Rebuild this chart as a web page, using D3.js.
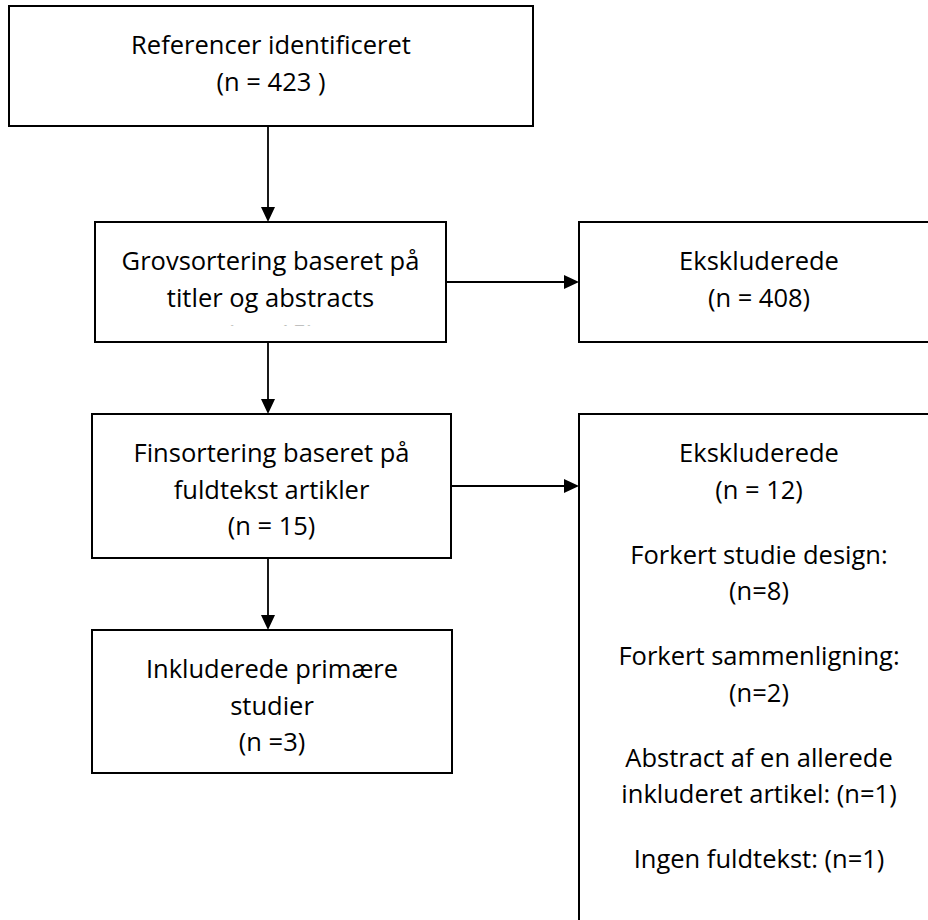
<!DOCTYPE html>
<meta charset="utf-8">
<style>
 body { margin: 0; background: #fff; }
 .box { fill: #fff; stroke: #000; stroke-width: 2; }
 .link { fill: none; stroke: #000; stroke-width: 1.8; }
 .head { fill: #000; }
 .label text { font-family: "Open Sans", "Noto Sans", sans-serif; font-size: 25.5px; fill: #000; }
</style>
<body>
<svg width="928" height="920"></svg>
<script src="https://d3js.org/d3.v7.min.js"></script>
<script>

 // flow steps and their text, one entry per box
 const stepIds = ["ref", "grov", "eks1", "fin", "eks2", "ink"];
 const stepText = [
     [["Referencer identificeret", "(n = 423 )"]],
     [["Grovsortering baseret på", "titler og abstracts", "(n = 15)"]],
     [["Ekskluderede", "(n = 408)"]],
     [["Finsortering baseret på", "fuldtekst artikler", "(n = 15)"]],
     [["Ekskluderede", "(n = 12)"],
      ["Forkert studie design:", "(n=8)"],
      ["Forkert sammenligning:", "(n=2)"],
      ["Abstract af en allerede", "inkluderet artikel: (n=1)"],
      ["Ingen fuldtekst: (n=1)"]],
     [["Inkluderede primære", "studier", "(n =3)"]]
 ];
 const links = [["ref", "grov"], ["grov", "eks1"], ["grov", "fin"], ["fin", "eks2"], ["fin", "ink"]];

 var svg = d3.select("svg");

 // box geometry (left, right, top, bottom) as it sits on the page
 var layout = {
     ref:  [9, 533, 6, 126],
     grov: [95, 446, 222, 342],
     eks1: [579, 939, 222, 342],
     fin:  [92, 451, 414, 558],
     eks2: [579, 939, 414, 980],
     ink:  [92, 452, 630, 773]
 };
 var trunkX = 268,
     lineH = 36.5,
     paraGap = 28.5,
     firstBase = 48,
     headL = 15, headW = 7;

 var defs = svg.append("defs");
 // the second box cuts off its last line, as in the source document
 defs.append("clipPath").attr("id", "clip-grov")
     .append("rect")
     .attr("x", layout.grov[0]).attr("y", layout.grov[2])
     .attr("width", layout.grov[1] - layout.grov[0])
     .attr("height", 325.3 - layout.grov[2]);

 var nodes = stepIds.map(function(id, i) {
     var b = layout[id];
     return {id: id, x0: b[0], x1: b[1], y0: b[2], y1: b[3], paras: stepText[i]};
 });
 var byId = new Map(nodes.map(d => [d.id, d]));

 svg.append("g").selectAll("rect")
    .data(nodes).enter().append("rect")
    .attr("class", "box")
    .attr("x", d => d.x0).attr("y", d => d.y0)
    .attr("width", d => d.x1 - d.x0).attr("height", d => d.y1 - d.y0);

 // connectors: vertical ones run down the trunk, sideways ones leave from the box middle
 var lg = svg.append("g");
 links.forEach(function(l) {
     var s = byId.get(l[0]), t = byId.get(l[1]);
     var x1, y1, x2, y2, head;
     if (t.x0 > s.x1) {
         y1 = y2 = (s.y0 + s.y1) / 2;
         x1 = s.x1; x2 = t.x0;
         head = [[x2, y2], [x2 - headL, y2 - headW], [x2 - headL, y2 + headW]];
         x2 -= headL - 1;
     } else {
         x1 = x2 = trunkX;
         y1 = s.y1; y2 = t.y0;
         head = [[x2, y2], [x2 - headW, y2 - headL], [x2 + headW, y2 - headL]];
         y2 -= headL - 1;
     }
     lg.append("line").attr("class", "link")
       .attr("x1", x1).attr("y1", y1).attr("x2", x2).attr("y2", y2);
     lg.append("path").attr("class", "head")
       .attr("d", "M" + head.join("L") + "Z");
 });

 var label = svg.append("g").attr("class", "label")
                .selectAll("g").data(nodes).enter().append("g")
                .attr("clip-path", d => d.id == "grov" ? "url(#clip-grov)" : null);

 label.each(function(d) {
     var g = d3.select(this),
         cx = (d.x0 + d.x1) / 2,
         y = d.y0 + firstBase;
     d.paras.forEach(function(p, pi) {
         if (pi > 0) y += paraGap;
         p.forEach(function(line, li) {
             if (li > 0) y += lineH;
             g.append("text")
              .attr("x", cx).attr("y", y)
              .attr("text-anchor", "middle")
              .text(line);
         });
         y += lineH;
     });
 });

</script>
</body>
